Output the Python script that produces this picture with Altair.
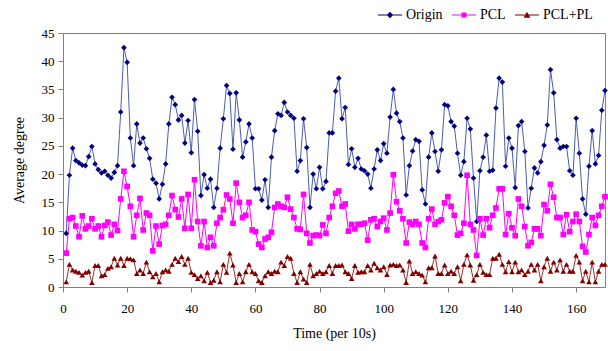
import altair as alt
import pandas as pd

# ---- data ----
series_names = ["Origin", "PCL", "PCL+PL"]

origin = [
    9.5, 19.8, 24.6, 22.4, 22.0, 21.6, 21.5, 23.1, 24.9, 21.8,
    20.8, 20.2, 20.5, 19.8, 19.3, 20.3, 21.5, 31.0, 42.4, 39.8,
    26.4, 21.5, 28.9, 25.5, 26.4, 24.5, 22.8, 19.1, 18.4, 15.6,
    18.2, 21.8, 28.9, 33.6, 32.3, 29.6, 30.4, 25.5, 29.5, 23.8,
    33.2, 27.6, 16.2, 19.9, 17.5, 19.1, 14.1, 17.5, 24.6, 29.8,
    35.7, 34.3, 24.4, 34.4, 29.6, 23.0, 25.7, 28.9, 26.4, 17.4,
    17.4, 15.4, 19.0, 14.1, 23.0, 27.7, 30.7, 30.4, 32.7, 31.0,
    30.4, 29.9, 20.5, 22.4, 29.8, 24.7, 14.1, 20.0, 17.4, 21.2,
    17.4, 18.7, 27.3, 27.3, 34.7, 37.0, 29.8, 31.8, 21.7, 24.5,
    21.2, 22.8, 20.9, 20.6, 20.0, 17.5, 20.9, 24.3, 22.4, 25.4,
    23.7, 30.1, 35.0, 30.8, 29.3, 26.4, 16.3, 21.5, 24.1, 26.1,
    25.8, 17.2, 14.7, 23.0, 27.3, 24.0, 20.5, 24.3, 32.3, 32.1,
    29.3, 28.5, 23.7, 19.8, 22.2, 29.9, 28.0, 19.3, 11.6, 20.6,
    23.0, 26.9, 20.5, 20.7, 31.7, 37.0, 36.3, 21.4, 26.4, 24.6,
    17.6, 28.6, 29.3, 24.0, 14.0, 17.5, 21.1, 20.2, 22.2, 25.1,
    28.7, 38.5, 34.4, 26.1, 24.6, 24.9, 24.9, 20.6, 19.8, 29.9,
    23.7, 15.6, 12.9, 21.4, 27.7, 21.8, 23.3, 31.3, 34.8,
]

pcl = [
    6.0, 12.1, 12.3, 10.8, 8.9, 12.6, 10.3, 10.8, 12.1, 10.3,
    10.8, 8.9, 10.9, 11.5, 9.2, 11.1, 10.0, 15.6, 20.5, 17.8,
    14.3, 8.9, 12.7, 15.7, 10.1, 13.1, 12.7, 6.4, 10.8, 7.6,
    10.9, 11.1, 12.7, 16.2, 13.7, 12.4, 15.6, 10.4, 16.4, 10.4,
    19.0, 11.6, 7.3, 11.6, 7.0, 8.8, 7.3, 11.3, 12.3, 13.7,
    16.3, 15.6, 11.3, 18.4, 15.0, 12.3, 12.7, 15.0, 10.1, 9.8,
    7.6, 7.0, 8.5, 8.8, 9.7, 14.1, 14.7, 14.3, 14.1, 15.9,
    13.8, 12.3, 10.3, 10.2, 16.4, 9.5, 7.8, 9.1, 9.2, 9.1,
    11.0, 9.5, 12.3, 14.3, 16.6, 17.0, 14.3, 14.7, 9.9, 11.1,
    10.3, 11.1, 11.1, 11.3, 8.3, 11.9, 12.1, 10.7, 11.6, 12.2,
    10.1, 13.1, 19.9, 15.1, 13.5, 12.1, 7.8, 11.5, 11.1, 11.6,
    11.1, 7.8, 7.0, 12.1, 13.8, 11.1, 11.6, 11.9, 14.9, 16.0,
    14.3, 12.7, 9.2, 9.5, 11.3, 19.8, 11.1, 10.1, 5.6, 12.1,
    9.2, 12.1, 10.5, 12.7, 14.0, 17.4, 17.4, 9.3, 13.0, 10.5,
    9.1, 15.6, 14.3, 10.7, 7.3, 7.9, 10.3, 10.3, 9.1, 14.6,
    13.5, 18.2, 15.9, 12.3, 12.3, 9.3, 12.8, 9.8, 11.6, 12.9,
    11.6, 7.2, 6.2, 9.3, 12.3, 10.9, 12.7, 14.3, 16.0,
]

pcl_pl = [
    0.9, 4.0, 3.0, 2.8, 2.6, 2.1, 2.6, 2.8, 0.8, 3.8,
    3.8, 2.0, 2.2, 3.3, 3.6, 5.1, 3.9, 5.1, 3.8, 5.1,
    5.0, 4.8, 2.4, 3.0, 2.4, 4.4, 2.7, 1.8, 2.4, 0.9,
    2.7, 3.0, 2.8, 4.0, 5.1, 4.5, 5.4, 4.0, 5.1, 2.6,
    2.2, 1.5, 2.0, 1.1, 2.6, 0.8, 1.2, 2.7, 0.9, 4.0,
    2.6, 6.0, 3.9, 0.8,
    2.4, 0.9, 2.7, 4.0, 2.7, 2.4, 1.1, 0.8, 2.0, 2.7,
    2.4, 2.8, 2.7, 4.4, 3.8, 5.4, 5.1, 2.4, 0.8, 2.7,
    1.4, 0.8, 4.0, 2.0, 2.4, 2.8, 2.4, 2.7, 3.8, 2.4,
    3.8, 3.8, 3.9, 2.7, 2.4, 1.5, 3.8, 2.6, 2.7, 2.7,
    3.8, 3.0, 4.2, 3.4, 3.0, 3.6, 2.2, 3.9, 4.0, 3.8,
    3.9, 3.0, 0.8, 4.6, 2.4, 2.7, 2.4, 2.1, 0.9, 3.4,
    3.4, 5.5, 2.4, 2.4, 3.9, 2.4, 2.8, 2.4, 3.6, 1.1,
    4.0, 5.7, 3.9, 1.2, 2.2, 4.0, 2.6, 2.2, 2.2, 5.1,
    5.1, 5.8, 4.0, 2.7, 4.5, 2.7, 4.4, 2.7, 3.0, 2.2,
    2.8, 4.0, 3.0, 4.0, 1.1, 3.6, 5.1, 2.8, 4.4, 3.0,
    4.8, 2.8, 4.0, 2.8, 2.8, 5.6, 4.4, 1.1, 2.8, 0.9,
    4.4, 0.9, 2.8, 4.0, 4.0,
]

x_ticks = [0, 20, 40, 60, 80, 100, 120, 140, 160]
y_ticks = [0, 5, 10, 15, 20, 25, 30, 35, 40, 45]

# ---- styles ----
line_colors = ["#4b5db3", "#ff00ff", "#9c3030"]
marker_colors = ["#000080", "#ff00ff", "#800000"]
marker_shapes = ["diamond", "square", "triangle-up"]
legend_shapes = [
    "M-1,-0.05L1,-0.05L1,0.05L-1,0.05Z M0,-0.27L0.27,0L0,0.27L-0.27,0Z",
    "M-1,-0.05L1,-0.05L1,0.05L-1,0.05Z M-0.21,-0.21L0.21,-0.21L0.21,0.21L-0.21,0.21Z",
    "M-1,-0.05L1,-0.05L1,0.05L-1,0.05Z M0,-0.28L0.28,0.22L-0.28,0.22Z",
]
FONT = "Liberation Serif"

rows = []
for name, vals in zip(series_names, [origin, pcl, pcl_pl]):
    for i, v in enumerate(vals):
        rows.append({"time": i + 1, "value": v, "series": name})
df = pd.DataFrame(rows)

x_enc = alt.X(
    "time:Q",
    scale=alt.Scale(domain=[0, 169], nice=False, zero=False),
    axis=alt.Axis(
        values=x_ticks, title="Time (per 10s)", grid=False,
        labelFont=FONT, labelFontSize=13, labelColor="black", labelPadding=10,
        tickSize=5, tickColor="#808080", domainColor="#808080",
        titleFont=FONT, titleFontSize=14, titleFontWeight="normal",
        titleColor="black", titlePadding=11, labelFlush=False,
    ),
)
y_enc = alt.Y(
    "value:Q",
    scale=alt.Scale(domain=[0, 45], nice=False),
    axis=alt.Axis(
        values=y_ticks, title="Average degree", grid=False,
        labelFont=FONT, labelFontSize=13, labelColor="black", labelPadding=4,
        tickSize=5, tickColor="#808080", domainColor="#808080",
        titleFont=FONT, titleFontSize=14, titleFontWeight="normal",
        titleColor="black", titlePadding=15, labelFlush=False,
    ),
)

base = alt.Chart(df)

lines = base.mark_line(strokeWidth=1).encode(
    x=x_enc, y=y_enc,
    color=alt.Color("series:N", scale=alt.Scale(domain=series_names, range=line_colors), legend=None),
)

points = base.mark_point(filled=True, opacity=1, size=32).encode(
    x=x_enc, y=y_enc,
    color=alt.Color("series:N", scale=alt.Scale(domain=series_names, range=marker_colors), legend=None),
    shape=alt.Shape("series:N", scale=alt.Scale(domain=series_names, range=marker_shapes), legend=None),
)

leg = alt.Legend(
    title=None, orient="none", legendX=315, legendY=-30, direction="horizontal",
    symbolSize=576, symbolOpacity=1, symbolStrokeWidth=0,
    labelFont=FONT, labelFontSize=14, labelColor="black", labelOffset=4,
    columnPadding=9, padding=0,
)
legend_layer = base.mark_point(filled=True, opacity=0).encode(
    x=x_enc, y=y_enc,
    color=alt.Color("series:N", scale=alt.Scale(domain=series_names, range=marker_colors), legend=leg),
    shape=alt.Shape("series:N", scale=alt.Scale(domain=series_names, range=legend_shapes), legend=leg),
)

chart = (
    alt.layer(lines, points, legend_layer)
    .resolve_scale(color="independent", shape="independent")
    .properties(
        width=542, height=254,
        autosize=alt.AutoSizeParams(type="none"),
        padding={"left": 63, "top": 33, "right": 3, "bottom": 64},
        background="white",
    )
    .configure_view(stroke="#808080", strokeWidth=1)
)

chart.save("out.html", embed_options={"renderer": "svg", "actions": False})
